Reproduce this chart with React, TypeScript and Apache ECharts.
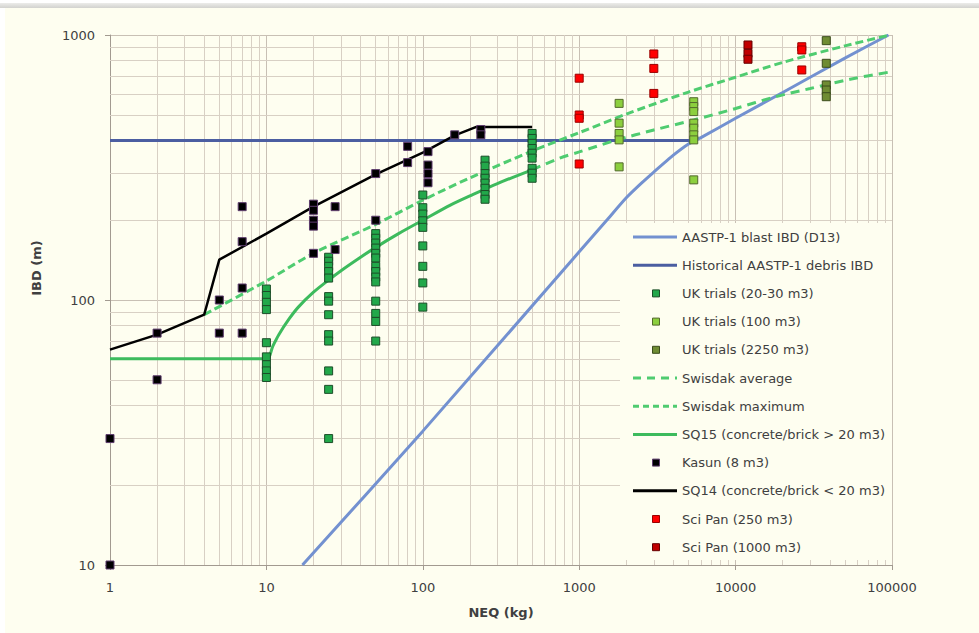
import React, { useEffect, useRef } from "react";
import * as echarts from "echarts";

// ---------- axis ticks ----------
const X_MINOR_GRID = [
  2, 3, 4, 5, 6, 7, 8, 9,
  20, 30, 40, 50, 60, 70, 80, 90,
  200, 300, 400, 500, 600, 700, 800, 900,
  2000, 3000, 4000, 5000, 6000, 7000, 8000, 9000,
  20000, 30000, 40000, 50000, 60000, 70000, 80000, 90000,
];
const Y_MINOR_GRID = [20, 30, 40, 50, 60, 70, 80, 90, 200, 300, 400, 500, 600, 700, 800, 900];

// ---------- lines [NEQ kg, IBD m] ----------
const BLAST_IBD: [number, number][] = [
  [17, 10], [100, 32], [1000, 152], [1500, 200], [2000, 243], [2500, 276], [3000, 304],
  [4000, 352], [5000, 388], [6000, 410], [10000, 485], [20000, 607], [50000, 818], [95000, 1000],
];
const DEBRIS_IBD: [number, number][] = [[1, 400], [5500, 400]];
const SWISDAK_AVG: [number, number][] = [
  [500, 310], [750, 343], [1000, 362], [1750, 402], [3000, 438], [5400, 478],
  [10000, 528], [18000, 585], [30000, 628], [54000, 681], [97000, 725],
];
const SWISDAK_MAX: [number, number][] = [
  [4, 88], [10, 118], [20, 150], [50, 193], [100, 238], [200, 289], [500, 365],
  [1000, 428], [2000, 503], [5000, 609], [10000, 693], [20000, 788], [50000, 910], [97000, 1000],
];
const SQ15: [number, number][] = [
  [1, 60], [10, 60], [11, 67], [12, 74], [14, 85], [16, 94], [20, 107], [25, 119],
  [30, 129], [40, 145], [50, 158], [70, 178], [100, 200], [150, 228], [200, 247], [300, 275], [500, 310],
];
const SQ14: [number, number][] = [
  [1, 65], [2, 74], [4, 88], [5, 142], [10, 178], [20, 225], [50, 298], [100, 360],
  [160, 418], [220, 450], [500, 450],
];

// ---------- trial points [NEQ kg, IBD m] ----------
const UK_20_30: [number, number][] = [
  [10, 110], [10, 104], [10, 98], [10, 92], [10, 69], [10, 61], [10, 57], [10, 54], [10, 51],
  [25, 145], [25, 140], [25, 134], [25, 128], [25, 121], [25, 103], [25, 99], [25, 88], [25, 74], [25, 70], [25, 54], [25, 46], [25, 30],
  [50, 178], [50, 171], [50, 164], [50, 157], [50, 150], [50, 144], [50, 134], [50, 128], [50, 122], [50, 117], [50, 99], [50, 89], [50, 83], [50, 70],
  [100, 249], [100, 223], [100, 211], [100, 199], [100, 188], [100, 160], [100, 134], [100, 116], [100, 94],
  [250, 337], [250, 320], [250, 300], [250, 288], [250, 276], [250, 264], [250, 250], [250, 240],
  [500, 425], [500, 407], [500, 390], [500, 373], [500, 358], [500, 343], [500, 314], [500, 301], [500, 288],
];
const UK_100: [number, number][] = [
  [1800, 552], [1800, 465], [1800, 425], [1800, 402], [1800, 318],
  [5400, 560], [5400, 537], [5400, 514], [5400, 465], [5400, 445], [5400, 420], [5400, 402], [5400, 284],
];
const UK_2250: [number, number][] = [[38000, 952], [38000, 782], [38000, 648], [38000, 620], [38000, 585]];
const KASUN: [number, number][] = [
  [1, 10], [1, 30], [2, 75], [2, 50], [5, 100], [5, 75], [7, 75], [7, 111], [7, 166], [7, 225],
  [20, 230], [20, 218], [20, 200], [20, 190], [20, 150], [27.5, 225], [27.5, 155],
  [50, 300], [50, 200], [80, 380], [80, 330], [108, 363], [108, 323], [108, 300], [108, 277],
  [160, 420], [235, 440], [235, 420],
];
const SCI_PAN_250: [number, number][] = [
  [1000, 687], [1000, 499], [1000, 485], [1000, 326],
  [3000, 848], [3000, 748], [3000, 602],
  [26500, 903], [26500, 878], [26500, 738],
];
const SCI_PAN_1000: [number, number][] = [[12000, 917], [12000, 853], [12000, 810]];

const FONT = "DejaVu Sans";
const TEXT = "#404040";

type Kind = "line" | "square";
interface Style {
  name: string;
  kind: Kind;
  color: string;
  border?: string;
  width?: number;
  dash?: number[];
}

const S_BLAST: Style = { name: "AASTP-1 blast IBD (D13)", kind: "line", color: "#7391d0", width: 3 };
const S_DEBRIS: Style = { name: "Historical AASTP-1 debris IBD", kind: "line", color: "#4b5ea1", width: 3 };
const S_UK1: Style = { name: "UK trials (20-30 m3)", kind: "square", color: "#22a84a", border: "#1c4d28" };
const S_UK2: Style = { name: "UK trials (100 m3)", kind: "square", color: "#8ccf3e", border: "#52682c" };
const S_UK3: Style = { name: "UK trials (2250 m3)", kind: "square", color: "#6f8c33", border: "#3b4c1c" };
const S_SWA: Style = { name: "Swisdak average", kind: "line", color: "#4fcc70", width: 3, dash: [9, 6] };
const S_SWM: Style = { name: "Swisdak maximum", kind: "line", color: "#4fcc70", width: 3, dash: [8, 4] };
const S_SQ15: Style = { name: "SQ15 (concrete/brick > 20 m3)", kind: "line", color: "#3dbb5d", width: 3 };
const S_KASUN: Style = { name: "Kasun (8 m3)", kind: "square", color: "#000000", border: "#5e3d6e" };
const S_SQ14: Style = { name: "SQ14 (concrete/brick < 20 m3)", kind: "line", color: "#000000", width: 2.5 };
const S_SP1: Style = { name: "Sci Pan (250 m3)", kind: "square", color: "#ff0000", border: "#9a0000" };
const S_SP2: Style = { name: "Sci Pan (1000 m3)", kind: "square", color: "#c00000", border: "#650000" };

const LEGEND_ORDER: Style[] = [
  S_BLAST, S_DEBRIS, S_UK1, S_UK2, S_UK3, S_SWA, S_SWM, S_SQ15, S_KASUN, S_SQ14, S_SP1, S_SP2,
];

function lineSeries(s: Style, data: [number, number][], smooth: number | boolean) {
  return {
    name: s.name,
    type: "line",
    data,
    symbol: "none",
    showSymbol: false,
    smooth,
    z: 3,
    lineStyle: { color: s.color, width: s.width, type: s.dash ? s.dash : "solid", cap: "butt" },
    itemStyle: { color: s.color },
  };
}
function scatterSeries(s: Style, data: [number, number][]) {
  return {
    name: s.name,
    type: "scatter",
    data,
    symbol: "rect",
    symbolSize: 8,
    z: 5,
    itemStyle: { color: s.color, borderColor: s.border, borderWidth: 1, opacity: 1 },
  };
}

function buildLegend() {
  const left = 620;
  const top = 223;
  const y0 = 237;
  const step = 28.2;
  const Z = 100;
  const els: any[] = [
    { type: "rect", z: Z, shape: { x: left, y: top, width: 272, height: 337 }, style: { fill: "#fefef0" } },
  ];
  LEGEND_ORDER.forEach((s, i) => {
    const y = y0 + i * step;
    if (s.kind === "line") {
      els.push({
        type: "line",
        z: Z + 1,
        shape: { x1: 633, y1: y, x2: 677, y2: y },
        style: { stroke: s.color, lineWidth: 3, lineDash: s.dash ? (s === S_SWA ? [8, 6] : [6, 4]) : null },
      });
    } else {
      els.push({
        type: "rect",
        z: Z + 1,
        shape: { x: 652.5, y: y - 3.5, width: 7, height: 7 },
        style: { fill: s.color, stroke: s.border, lineWidth: 1 },
      });
    }
    els.push({
      type: "text",
      z: Z + 1,
      x: 682,
      y,
      style: { text: s.name, fill: TEXT, font: `13px "${FONT}"`, align: "left", verticalAlign: "middle" },
    });
  });
  return els;
}

export default function App() {
  const ref = useRef<HTMLDivElement>(null);
  useEffect(() => {
    if (!ref.current) return;
    const chart = echarts.init(ref.current, null, { renderer: "svg" });
    const gridLine = {
      name: "minor-grid",
      type: "scatter",
      data: [[1, 10]],
      symbolSize: 0,
      silent: true,
      z: 1,
      markLine: {
        silent: true,
        z: 1,
        symbol: "none",
        label: { show: false },
        lineStyle: { color: "#d8d0c4", width: 1, type: "solid" },
        data: [
          ...X_MINOR_GRID.map((v) => ({ xAxis: v })),
          ...Y_MINOR_GRID.map((v) => ({ yAxis: v })),
        ],
      },
    };
    const axisLabel = { color: TEXT, fontFamily: FONT, fontSize: 13, margin: 16, formatter: (v: number) => String(Math.round(v)) };
    chart.setOption({
      animation: false,
      backgroundColor: "transparent",
      textStyle: { fontFamily: FONT },
      grid: { left: 110, right: 87, top: 35, bottom: 68, containLabel: false, outerBoundsMode: "none" },
      xAxis: {
        type: "log",
        logBase: 10,
        min: 1,
        max: 100000,
        splitNumber: 5,
        axisLine: { show: true, lineStyle: { color: "#a29a90", width: 1 } },
        axisTick: { show: true, length: 5, lineStyle: { color: "#a29a90" } },
        axisLabel,
        splitLine: { show: true, lineStyle: { color: "#c8c0b4", width: 1 } },
        name: "NEQ (kg)",
        nameLocation: "middle",
        nameGap: 41,
        nameTextStyle: { color: TEXT, fontFamily: FONT, fontSize: 13, fontWeight: "bold" },
      },
      yAxis: {
        type: "log",
        logBase: 10,
        min: 10,
        max: 1000,
        splitNumber: 2,
        axisLine: { show: true, lineStyle: { color: "#a29a90", width: 1 } },
        axisTick: { show: true, length: 5, lineStyle: { color: "#a29a90" } },
        axisLabel: { ...axisLabel, margin: 15 },
        splitLine: { show: true, lineStyle: { color: "#c8c0b4", width: 1 } },
      },
      graphic: [
        ...buildLegend(),
        {
          type: "text",
          z: 100,
          x: 36,
          y: 268,
          rotation: Math.PI / 2,
          style: { text: "IBD (m)", fill: TEXT, font: `bold 13px "${FONT}"`, align: "center", verticalAlign: "middle" },
        },
      ],
      series: [
        gridLine,
        lineSeries(S_BLAST, BLAST_IBD, 0.2),
        lineSeries(S_DEBRIS, DEBRIS_IBD, false),
        lineSeries(S_SWA, SWISDAK_AVG, 0.3),
        lineSeries(S_SWM, SWISDAK_MAX, 0.3),
        lineSeries(S_SQ15, SQ15, 0.3),
        lineSeries(S_SQ14, SQ14, false),
        scatterSeries(S_UK1, UK_20_30),
        scatterSeries(S_UK2, UK_100),
        scatterSeries(S_UK3, UK_2250),
        scatterSeries(S_KASUN, KASUN),
        scatterSeries(S_SP1, SCI_PAN_250),
        scatterSeries(S_SP2, SCI_PAN_1000),
      ],
    });
    return () => chart.dispose();
  }, []);
  return (
    <div style={{ position: "absolute", left: 0, top: 0, width: 979, height: 633, background: "#ffffff", overflow: "hidden" }}>
      <div style={{ position: "absolute", left: 0, top: 3, width: 979, height: 5, background: "linear-gradient(#ececea, #d2d2ce)" }} />
      <div style={{ position: "absolute", left: 5, top: 8, width: 974, height: 625, background: "#fefef0" }} />
      <div ref={ref} style={{ position: "absolute", left: 0, top: 0, width: 979, height: 633 }} />
    </div>
  );
}
